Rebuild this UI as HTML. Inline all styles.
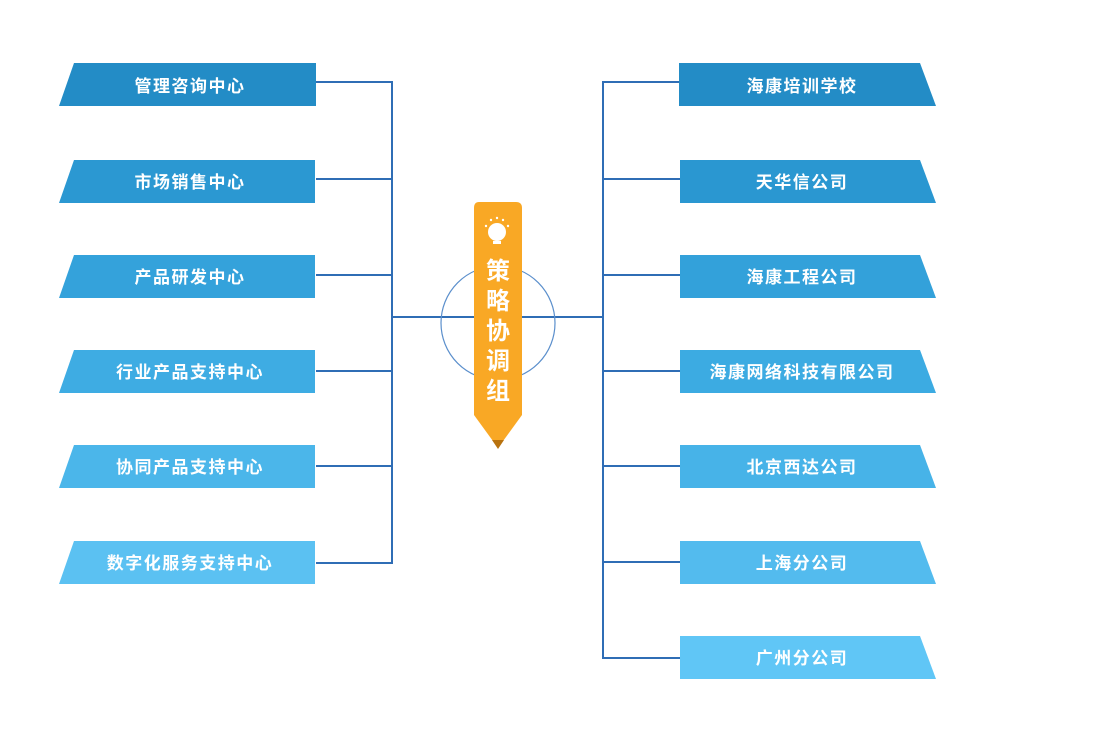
<!DOCTYPE html>
<html><head><meta charset="utf-8"><style>
body{margin:0;background:#fff;width:1100px;height:755px;overflow:hidden;font-family:"Liberation Sans","Noto Sans CJK SC",sans-serif}
</style></head><body>
<svg width="1100" height="755" xmlns="http://www.w3.org/2000/svg" style="position:absolute;left:0;top:0">
<g stroke="#2f6db5" stroke-width="2" fill="none">
<line x1="316" y1="82" x2="392" y2="82"/><line x1="316" y1="179" x2="392" y2="179"/><line x1="316" y1="275" x2="392" y2="275"/><line x1="316" y1="371" x2="392" y2="371"/><line x1="316" y1="466" x2="392" y2="466"/><line x1="316" y1="563" x2="392" y2="563"/>
<line x1="392" y1="81" x2="392" y2="564"/>
<line x1="392" y1="317" x2="603" y2="317"/>
<line x1="603" y1="81" x2="603" y2="659"/>
<line x1="603" y1="82" x2="680" y2="82"/><line x1="603" y1="179" x2="680" y2="179"/><line x1="603" y1="275" x2="680" y2="275"/><line x1="603" y1="371" x2="680" y2="371"/><line x1="603" y1="466" x2="680" y2="466"/><line x1="603" y1="562" x2="680" y2="562"/><line x1="603" y1="658" x2="680" y2="658"/>
</g>
<circle cx="498" cy="323" r="57" fill="none" stroke="#5b8fcc" stroke-width="1.2"/>
<g font-size="17" font-weight="bold" fill="#fff" text-anchor="middle" letter-spacing="1.5" font-family="Liberation Sans,Noto Sans CJK SC,sans-serif">
<polygon points="74,63 316,63 316,106 59,106" fill="#238cc6"/><text x="190" y="92">管理咨询中心</text>
<polygon points="74,160 315,160 315,203 59,203" fill="#2b98d2"/><text x="190" y="188">市场销售中心</text>
<polygon points="74,255 315,255 315,298 59,298" fill="#34a2db"/><text x="190" y="283">产品研发中心</text>
<polygon points="74,350 315,350 315,393 59,393" fill="#3eace3"/><text x="190" y="378">行业产品支持中心</text>
<polygon points="74,445 315,445 315,488 59,488" fill="#4bb6ea"/><text x="190" y="473">协同产品支持中心</text>
<polygon points="74,541 315,541 315,584 59,584" fill="#5bc1f2"/><text x="190" y="569">数字化服务支持中心</text>
<polygon points="679,63 920,63 936,106 679,106" fill="#238cc6"/><text x="802" y="92">海康培训学校</text>
<polygon points="680,160 920,160 936,203 680,203" fill="#2a97d1"/><text x="802" y="188">天华信公司</text>
<polygon points="680,255 920,255 936,298 680,298" fill="#33a1da"/><text x="802" y="283">海康工程公司</text>
<polygon points="680,350 920,350 936,393 680,393" fill="#3cabe2"/><text x="802" y="378">海康网络科技有限公司</text>
<polygon points="680,445 920,445 936,488 680,488" fill="#47b3e8"/><text x="802" y="473">北京西达公司</text>
<polygon points="680,541 920,541 936,584 680,584" fill="#53bbee"/><text x="802" y="569">上海分公司</text>
<polygon points="680,636 920,636 936,679 680,679" fill="#60c6f6"/><text x="802" y="664">广州分公司</text>
</g>
<path d="M479,202 H516 Q522,202 522,208 V415 L498,448 L474,415 V208 Q474,202 479,202 Z" fill="#f9a825"/>
<polygon points="492,440 504,440 498,449" fill="#b8720e"/>
<circle cx="497" cy="232" r="9" fill="#fff"/>
<rect x="493" y="241" width="8" height="3" fill="#fff"/>
<g fill="#fff"><circle cx="486" cy="226" r="1.2"/><circle cx="491" cy="220" r="1.2"/><circle cx="497" cy="218" r="1.2"/><circle cx="503" cy="220" r="1.2"/><circle cx="508" cy="226" r="1.2"/></g>
<g font-size="24" font-weight="bold" fill="#fff" text-anchor="middle" font-family="Liberation Sans,Noto Sans CJK SC,sans-serif">
<text x="498" y="279">策</text><text x="498" y="309">略</text><text x="498" y="339">协</text><text x="498" y="369">调</text><text x="498" y="399">组</text>
</g>
</svg>
</body></html>
